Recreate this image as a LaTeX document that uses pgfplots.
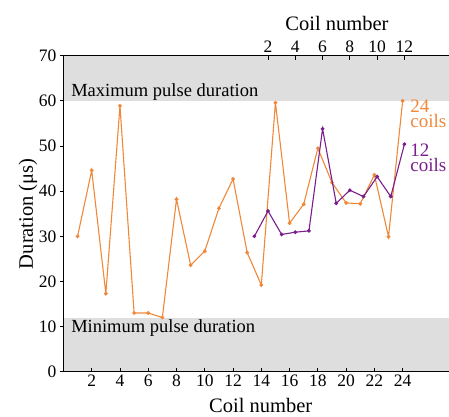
\documentclass[border=0pt]{standalone}
\usepackage{fontspec}
\setmainfont{Liberation Serif}
\usepackage{pgfplots}
\pgfplotsset{compat=1.18}
\definecolor{orng}{HTML}{F0883A}
\definecolor{purp}{HTML}{7A1E8C}
\definecolor{band}{HTML}{DEDEDE}
\begin{document}
\begin{tikzpicture}
\begin{axis}[
 scale only axis, width=385pt, height=316pt,
 xmin=0.04, xmax=27.28, ymin=0, ymax=70,
 axis x line*=bottom, axis y line*=left,
 axis on top,
 xtick={2,4,...,24}, ytick={0,10,...,70},
 xtick align=inside, ytick align=outside,
 major tick length=4pt,
 tick style={black, line width=0.8pt},
 axis line style={black, line width=1pt, -},
 ticklabel style={font=\fontsize{17.5}{20}\selectfont},
 /pgf/number format/assume math mode=true,
 xlabel={Coil number}, ylabel={Duration (μs)},
 label style={font=\fontsize{20.5}{24}\selectfont},
 xlabel style={at={(axis description cs:0.511,-0.1076)}, anchor=center},
 ylabel style={at={(axis description cs:-0.0935,0.5)}, anchor=center},
 clip=false,
]
\addplot[draw=none, fill=band, forget plot] coordinates {(0.04,60) (27.28,60) (27.28,70) (0.04,70)} -- cycle;
\addplot[draw=none, fill=band, forget plot] coordinates {(0.04,0) (27.28,0) (27.28,12) (0.04,12)} -- cycle;
\addplot[orng, line width=1.1pt, mark=*, mark size=1.3pt] coordinates {
(1,30.0) (2,44.6) (3,17.3) (4,58.9) (5,13.0) (6,13.0) (7,12.0) (8,38.2)
(9,23.6) (10,26.7) (11,36.2) (12,42.7) (13,26.4) (14,19.2) (15,59.6) (16,32.9)
(17,37.1) (18,49.5) (19,41.9) (20,37.4) (21,37.2) (22,43.6) (23,29.9) (24,60.0)};
\node[anchor=base west, inner sep=0, font=\fontsize{18.5}{22}\selectfont] at (axis cs:0.54,60.9) {Maximum pulse duration};
\node[anchor=base west, inner sep=0, font=\fontsize{18.5}{22}\selectfont] at (axis cs:0.54,8.6) {Minimum pulse duration};
\node[anchor=south west, inner sep=0, align=left, text=orng, font=\fontsize{19}{15}\selectfont] at (axis cs:24.54,54.05) {24\\coils};
\node[anchor=south west, inner sep=0, align=left, text=purp, font=\fontsize{19}{15}\selectfont] at (axis cs:24.54,44.3) {12\\coils};
\end{axis}
\begin{axis}[
 scale only axis, width=385pt, height=316pt,
 xmin=-12.96, xmax=15.27, ymin=0, ymax=70,
 axis x line*=top, axis y line=none,
 xtick={2,4,...,12},
 xtick align=inside,
 major tick length=4pt,
 tick style={black, line width=0.8pt},
 axis line style={black, line width=1pt, -},
 ticklabel style={font=\fontsize{17.5}{20}\selectfont},
 /pgf/number format/assume math mode=true,
 xlabel={Coil number},
 label style={font=\fontsize{20.5}{24}\selectfont},
 xlabel style={at={(axis description cs:0.709,1.1025)}, anchor=center},
]
\addplot[purp, line width=1.1pt, mark=*, mark size=1.3pt] coordinates {
(1,30.0) (2,35.6) (3,30.4) (4,30.9) (5,31.2) (6,53.8)
(7,37.3) (8,40.2) (9,38.8) (10,43.2) (11,38.8) (12,50.4)};
\end{axis}
\pgfresetboundingbox
\path (current axis.south west) ++(-64pt,-44.3pt) rectangle ++(449pt,416pt);
\end{tikzpicture}
\end{document}
